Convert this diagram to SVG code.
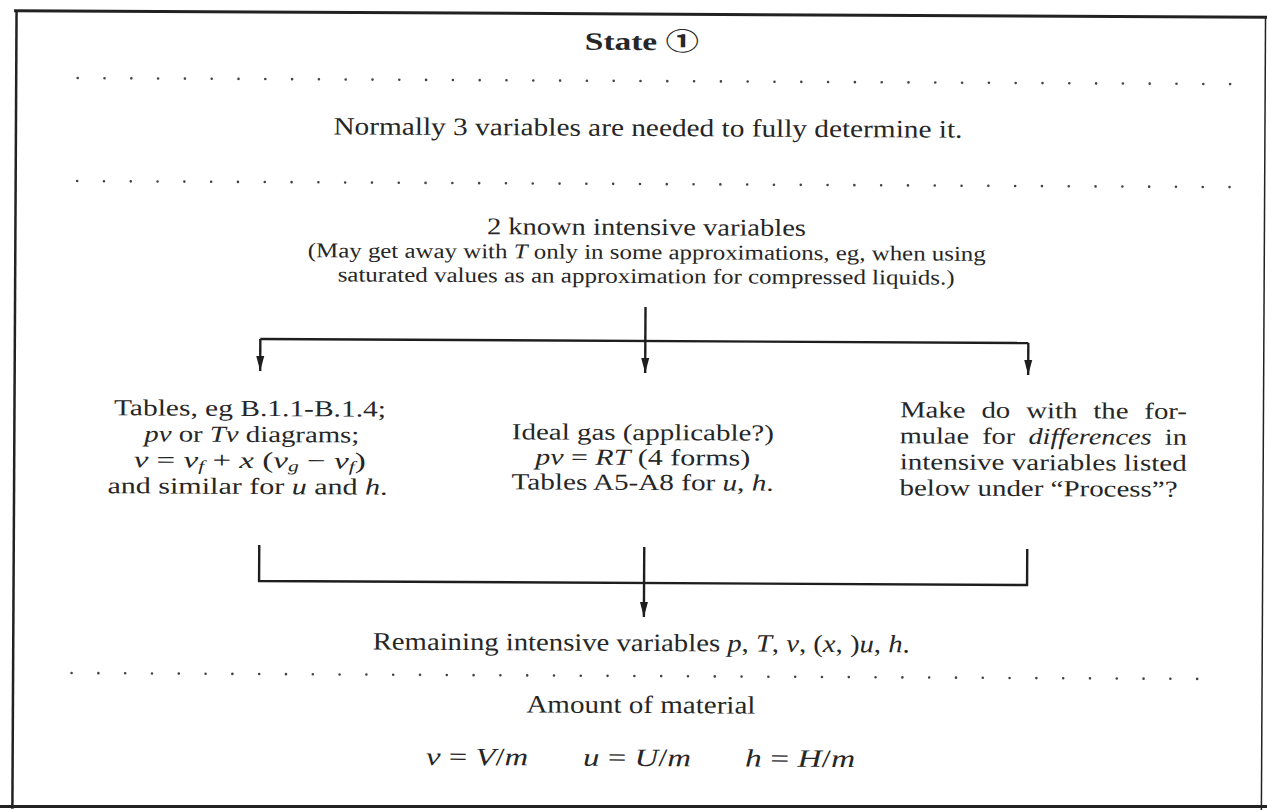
<svg xmlns="http://www.w3.org/2000/svg" width="1267" height="810" viewBox="0 0 1267 810">
<defs>
<style>
text{font-family:"Liberation Serif","DejaVu Serif","Noto Sans CJK SC",serif;fill:#262626;font-size:25px;text-anchor:middle}
.sm{font-size:21px}
.k{font-size:24px}
.blk{font-size:23px}
.b{font-weight:bold}
.i{font-style:italic}
.l{text-anchor:start}
.sub{font-size:15px;font-style:italic}
.conn{stroke:#1e1e1e;stroke-width:2.4;fill:none}
.frame{stroke:#222;fill:none}
.dots{stroke:#444;stroke-width:2.6;stroke-linecap:round;stroke-dasharray:0 26.8;fill:none}
</style>
<marker id="ah" markerUnits="userSpaceOnUse" markerWidth="16" markerHeight="10" refX="15" refY="5" orient="auto"><path d="M0,1 L15,5 L0,9 z" fill="#1e1e1e"/></marker>
</defs>
<rect width="1267" height="810" fill="#fff"/>
<path class="frame" d="M0,806.5 H1267" stroke-width="3"/>
<g transform="rotate(0.3 640 405)">
<g id="frame">
<path class="frame" d="M12,14 H1267" stroke-width="3"/>
<path class="frame" d="M14.5,14 V812" stroke-width="2.5"/>
<path class="frame" d="M1263.5,14 V812" stroke-width="1.5" stroke="#aaa"/>
</g>
<g id="separators">
<line class="dots" x1="76" y1="81" x2="1229" y2="81"/>
<line class="dots" x1="76" y1="184" x2="1229" y2="184"/>
<line class="dots" x1="73" y1="676" x2="1225" y2="676"/>
</g>
<g id="n-state"><text class="b" x="640" y="50" textLength="114" lengthAdjust="spacingAndGlyphs">State ①</text></g>
<g id="n-normally"><text x="646.5" y="136" textLength="629" lengthAdjust="spacingAndGlyphs">Normally 3 variables are needed to fully determine it.</text></g>
<g id="n-known">
<text class="k" x="645.5" y="235" textLength="319" lengthAdjust="spacingAndGlyphs">2 known intensive variables</text>
<text class="sm" x="646" y="259" textLength="678" lengthAdjust="spacingAndGlyphs">(May get away with <tspan class="i">T</tspan> only in some approximations, eg, when using</text>
<text class="sm" x="645.5" y="283" textLength="617" lengthAdjust="spacingAndGlyphs">saturated values as an approximation for compressed liquids.)</text>
</g>
<g id="n-tables">
<text class="blk" x="250" y="418" textLength="272" lengthAdjust="spacingAndGlyphs">Tables, eg B.1.1-B.1.4;</text>
<text class="blk" x="252" y="444" textLength="215" lengthAdjust="spacingAndGlyphs"><tspan class="i">pv</tspan> or <tspan class="i">Tv</tspan> diagrams;</text>
<text class="blk" x="250" y="470" textLength="232" lengthAdjust="spacingAndGlyphs"><tspan class="i">v</tspan> = <tspan class="i">v</tspan><tspan class="sub" dy="3">f</tspan><tspan dy="-3"> + </tspan><tspan class="i">x</tspan> (<tspan class="i">v</tspan><tspan class="sub" dy="3">g</tspan><tspan dy="-3"> − </tspan><tspan class="i">v</tspan><tspan class="sub" dy="3">f</tspan><tspan dy="-3">)</tspan></text>
<text class="blk" x="248" y="496" textLength="280" lengthAdjust="spacingAndGlyphs">and similar for <tspan class="i">u</tspan> and <tspan class="i">h</tspan>.</text>
</g>
<g id="n-ideal">
<text class="blk" x="643" y="440" textLength="262" lengthAdjust="spacingAndGlyphs">Ideal gas (applicable?)</text>
<text class="blk" x="643" y="465" textLength="215" lengthAdjust="spacingAndGlyphs"><tspan class="i">pv</tspan> = <tspan class="i">RT</tspan> (4 forms)</text>
<text class="blk" x="643" y="490" textLength="262" lengthAdjust="spacingAndGlyphs">Tables A5-A8 for <tspan class="i">u</tspan>, <tspan class="i">h</tspan>.</text>
</g>
<g id="n-differences">
<text class="blk l" x="900" y="416" textLength="287" lengthAdjust="spacingAndGlyphs" style="word-spacing:7px">Make do with the for-</text>
<text class="blk l" x="900" y="442" textLength="287" lengthAdjust="spacingAndGlyphs" style="word-spacing:5px">mulae for <tspan class="i">differences</tspan> in</text>
<text class="blk l" x="900" y="468" textLength="287" lengthAdjust="spacingAndGlyphs">intensive variables listed</text>
<text class="blk l" x="900" y="494" textLength="278" lengthAdjust="spacingAndGlyphs">below under “Process”?</text>
</g>
<g id="n-remaining"><text x="642.5" y="651" textLength="537" lengthAdjust="spacingAndGlyphs">Remaining intensive variables <tspan class="i">p</tspan>, <tspan class="i">T</tspan>, <tspan class="i">v</tspan>, (<tspan class="i">x</tspan>, )<tspan class="i">u</tspan>, <tspan class="i">h</tspan>.</text></g>
<g id="n-amount">
<text x="642.5" y="713" textLength="229" lengthAdjust="spacingAndGlyphs">Amount of material</text>
<text x="479" y="766" textLength="102" lengthAdjust="spacingAndGlyphs"><tspan class="i">v</tspan> = <tspan class="i">V</tspan>/<tspan class="i">m</tspan></text>
<text x="639" y="766" textLength="108" lengthAdjust="spacingAndGlyphs"><tspan class="i">u</tspan> = <tspan class="i">U</tspan>/<tspan class="i">m</tspan></text>
<text x="802" y="766" textLength="110" lengthAdjust="spacingAndGlyphs"><tspan class="i">h</tspan> = <tspan class="i">H</tspan>/<tspan class="i">m</tspan></text>
</g>
<g id="connectors">
<path class="conn" d="M645,307 V373" marker-end="url(#ah)"/>
<path class="conn" d="M260,341 H1028"/>
<path class="conn" d="M260,341 V373" marker-end="url(#ah)"/>
<path class="conn" d="M1028,341 V373" marker-end="url(#ah)"/>
<path class="conn" d="M260,547 V583 H1028 V547"/>
<path class="conn" d="M645,547 V617" marker-end="url(#ah)"/>
</g>
</g>
</svg>
